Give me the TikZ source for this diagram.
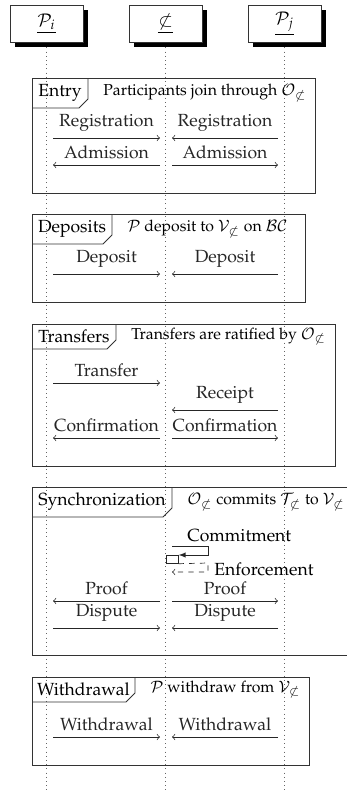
\documentclass[tikz,border=0pt]{standalone}
\usepackage[T1]{fontenc}
\usepackage{mathpazo}
\usetikzlibrary{shadows,calc}
\newcommand\sdframe[8]{%
  \draw[frm] (32,#2) rectangle (#4,#3);
  \draw[frm] (32,#6) -- ({#5-9},#6) -- (#5,{#6-9}) -- (#5,#2);
  \node[lbl] (#1-lbl) at ({(32+#5)/2},{(#2+#6)/2}) {#7};
  \node[desc] (#1-desc) at ({#5+15},{(#2+#6)/2}) {#8};
}
\newcommand\msgrow[2]{%
  \coordinate (#1-a) at (53,#2);
  \coordinate (#1-b) at (160,#2);
  \coordinate (#1-c) at (172,#2);
  \coordinate (#1-d) at (278,#2);
}
\newcommand\ns{{\not\subset}}
\begin{document}
\begin{tikzpicture}[x=0.02cm,y=-0.02cm,
  hdr/.style={draw=black!80, fill=white, minimum width=1.46cm, minimum height=0.74cm, inner sep=0pt,
    general shadow={fill=black, shadow xshift=0.1cm, shadow yshift=-0.1cm}},
  life/.style={dotted, black!60},
  msg/.style={->, black!85},
  ret/.style={->, dashed, black!85},
  frm/.style={draw=black!80, line width=0.5pt},
  lbl/.style={inner sep=0pt, anchor=center},
  desc/.style={anchor=west, inner sep=0pt, font=\small},
  mlab/.style={above}]
\useasboundingbox (0,0) rectangle (346,792);
\coordinate (end) at (0,792);
\node[hdr] (pi) at (46.5,23.5) {$\underline{\mathcal{P}_i}$};
\node[hdr] (c) at (165.5,23.5) {$\underline{\not\subset}$};
\node[hdr] (pj) at (284.5,23.5) {$\underline{\mathcal{P}_j}$};
\draw[life] ([yshift=-0.1cm]pi.south) -- (pi |- end);
\draw[life] ([yshift=-0.1cm]c.south) -- (c |- end);
\draw[life] ([yshift=-0.1cm]pj.south) -- (pj |- end);

% Entry
\sdframe{entry}{78}{193}{315}{88}{108}{Entry}{Participants join through $\mathcal{O}_\ns$}
\msgrow{reg}{138}
\msgrow{adm}{165}
\draw[msg] (reg-a) -- node[mlab] (reg-l1) {Registration} (reg-b);
\draw[msg] (reg-d) -- node[mlab] (reg-l2) {Registration} (reg-c);
\draw[msg] (adm-b) -- node[mlab] (adm-l1) {Admission} (adm-a);
\draw[msg] (adm-c) -- node[mlab] (adm-l2) {Admission} (adm-d);

% Deposits
\sdframe{dep}{214}{302}{305}{112}{244}{Deposits}{$\mathcal{P}$ deposit to $\mathcal{V}_\ns$ on $\mathcal{BC}$}
\msgrow{dp}{274}
\draw[msg] (dp-a) -- node[mlab] (dp-l1) {Deposit} (dp-b);
\draw[msg] (dp-d) -- node[mlab] (dp-l2) {Deposit} (dp-c);

% Transfers
\sdframe{tr}{324}{466}{335}{116}{349}{Transfers}{Transfers are ratified by $\mathcal{O}_\ns$}
\msgrow{tf}{383}
\msgrow{rc}{410}
\msgrow{cf}{438}
\draw[msg] (tf-a) -- node[mlab] (tf-l) {Transfer} (tf-b);
\draw[msg] (rc-d) -- node[mlab] (rc-l) {Receipt} (rc-c);
\draw[msg] (cf-b) -- node[mlab] (cf-l1) {Confirmation} (cf-a);
\draw[msg] (cf-c) -- node[mlab] (cf-l2) {Confirmation} (cf-d);

% Synchronization
\sdframe{sy}{487}{655}{352}{172}{517}{Synchronization}{$\mathcal{O}_\ns$ commits $\mathcal{T}_\ns$ to $\mathcal{V}_\ns$}
\coordinate (cm1) at (172,546);
\coordinate (cm2) at (208,546);
\coordinate (cm3) at (208,555);
\node[draw=black!85, fill=white, inner sep=0pt, minimum width=0.24cm, minimum height=0.16cm, anchor=north west] (callbox) at (166,555) {};
\draw[-latex, black!85] (cm1) -- (cm2) -- (cm3) -- (callbox.north east);
\node[anchor=south west, inner sep=0pt] (cm-l) at (187,542) {Commitment};
\coordinate (en2) at (208,563);
\coordinate (en3) at (208,572);
\coordinate (en4) at (172,572);
\draw[ret] (callbox.south east) -- (en2) -- (en3) -- (en4);
\node[anchor=west, inner sep=0pt] (en-l) at (214,569.5) {Enforcement};
\msgrow{pf}{601}
\msgrow{ds}{628}
\draw[msg] (pf-b) -- node[mlab] (pf-l1) {Proof} (pf-a);
\draw[msg] (pf-c) -- node[mlab] (pf-l2) {Proof} (pf-d);
\draw[msg] (ds-a) -- node[mlab] (ds-l1) {Dispute} (ds-b);
\draw[msg] (ds-d) -- node[mlab] (ds-l2) {Dispute} (ds-c);

% Withdrawal
\sdframe{wd}{677}{765}{309}{135}{702}{Withdrawal}{$\mathcal{P}$ withdraw from $\mathcal{V}_\ns$}
\msgrow{wr}{737}
\draw[msg] (wr-a) -- node[mlab] (wr-l1) {Withdrawal} (wr-b);
\draw[msg] (wr-d) -- node[mlab] (wr-l2) {Withdrawal} (wr-c);
\end{tikzpicture}
\end{document}
